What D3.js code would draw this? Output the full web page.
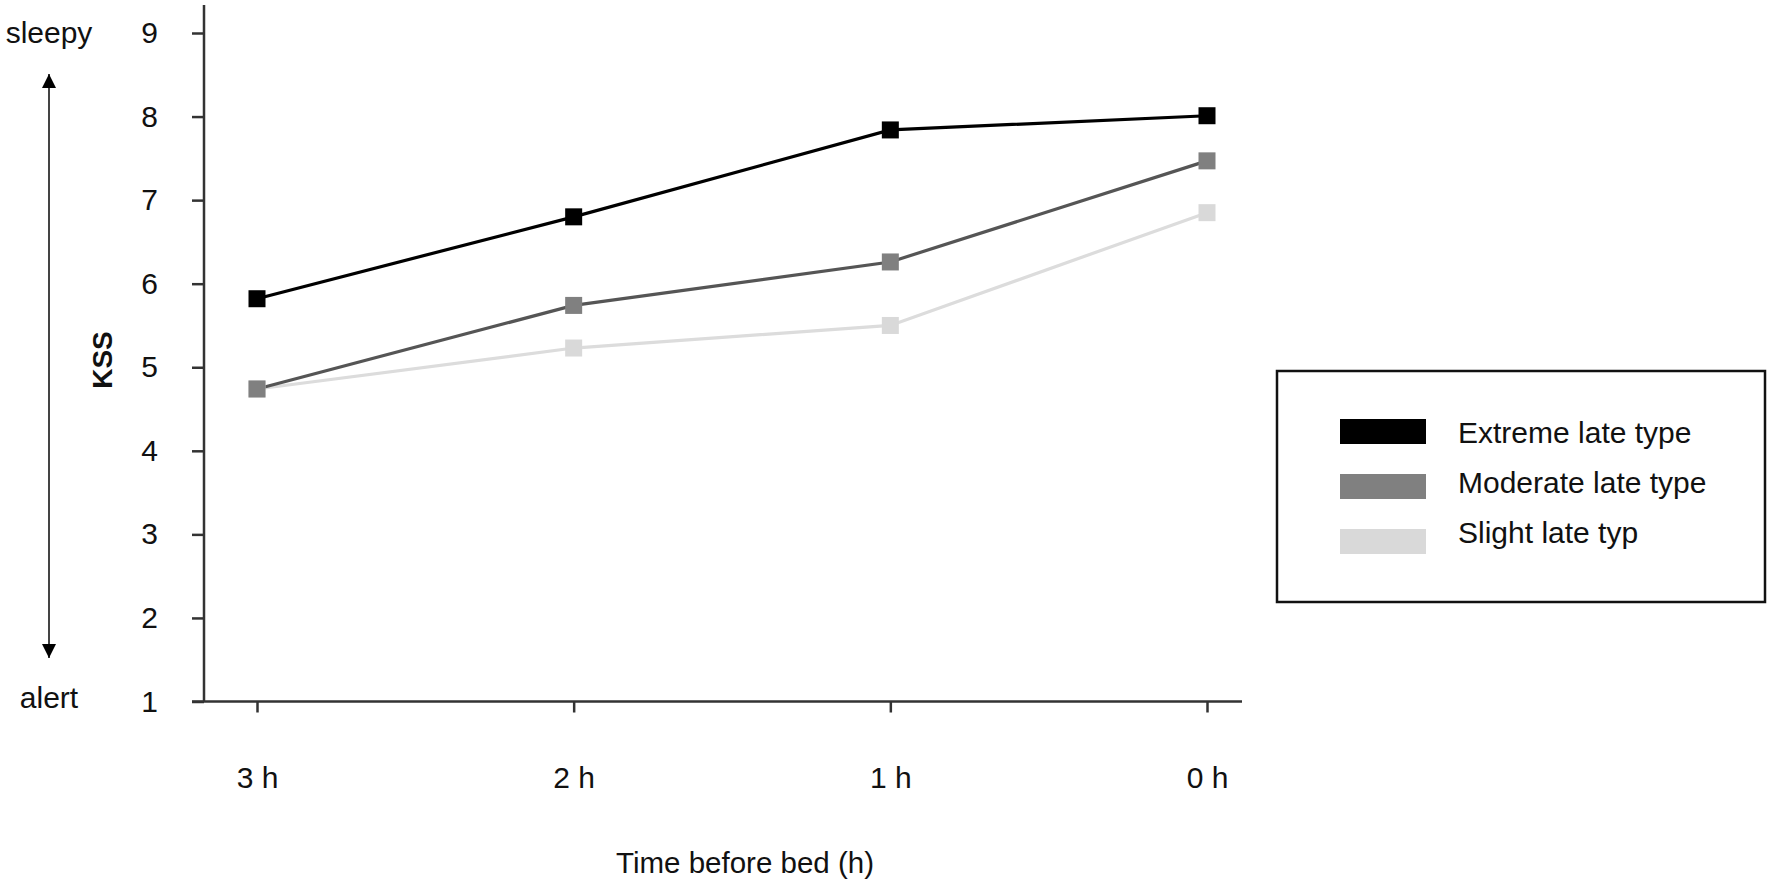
<!DOCTYPE html>
<html>
<head>
<meta charset="utf-8">
<script src="https://cdn.jsdelivr.net/npm/d3@7"></script>
<style>
  body { margin: 0; background: #fff; }
  text { font-family: "Liberation Sans", Arial, sans-serif; fill: #111; }
</style>
</head>
<body>
<svg width="1772" height="884"></svg>
<script>
// --- Data ---
const times = ['3 h', '2 h', '1 h', '0 h'];
const extreme = [5.82, 6.80, 7.84, 8.01];
const moderate = [4.74, 5.74, 6.26, 7.47];
const slight = [4.74, 5.23, 5.50, 6.85];
const seriesNames = ['Extreme late type', 'Moderate late type', 'Slight late typ'];
const yTicks = [1, 2, 3, 4, 5, 6, 7, 8, 9];

const svg = d3.select('svg');

// --- Scales ---
const x = d3.scalePoint().domain(times).range([257, 1207]);
const y = d3.scaleLinear().domain([1, 9]).range([701.5, 33]);

const series = [
  { name: seriesNames[0], values: extreme, line: '#000', marker: '#000' },
  { name: seriesNames[1], values: moderate, line: '#555', marker: '#808080' },
  { name: seriesNames[2], values: slight, line: '#dcdcdc', marker: '#d9d9d9' }
];

// --- Y axis ---
const yAxis = svg.append('g')
  .attr('transform', 'translate(204,0)')
  .call(d3.axisLeft(y).tickValues(yTicks).tickSize(12).tickPadding(34).tickFormat(d3.format('d')));
yAxis.select('.domain').remove();
yAxis.selectAll('.tick line').attr('stroke', '#333').attr('stroke-width', 2.5);
yAxis.selectAll('.tick text')
  .attr('font-size', 30).attr('fill', '#111')
  .style('font-family', '"Liberation Sans", Arial, sans-serif');

svg.append('line')
  .attr('x1', 204).attr('x2', 204)
  .attr('y1', 5).attr('y2', y(1))
  .attr('stroke', '#333').attr('stroke-width', 2.5);

// --- X axis ---
const xAxis = svg.append('g')
  .attr('transform', `translate(0,${y(1)})`)
  .call(d3.axisBottom(x).tickSize(11).tickPadding(54));
xAxis.select('.domain').remove();
xAxis.selectAll('.tick line').attr('stroke', '#333').attr('stroke-width', 2.5);
xAxis.selectAll('.tick text')
  .attr('font-size', 30).attr('fill', '#111')
  .style('font-family', '"Liberation Sans", Arial, sans-serif');

svg.append('line')
  .attr('x1', 192).attr('x2', 1242)
  .attr('y1', y(1)).attr('y2', y(1))
  .attr('stroke', '#333').attr('stroke-width', 2.5);

// --- Axis titles ---
svg.append('text')
  .attr('x', 745).attr('y', 873)
  .attr('text-anchor', 'middle')
  .attr('font-size', 29.5)
  .text('Time before bed (h)');

svg.append('text')
  .attr('transform', 'translate(112,360) rotate(-90)')
  .attr('text-anchor', 'middle')
  .attr('font-size', 28)
  .attr('font-weight', 'bold')
  .text('KSS');

// --- sleepy / alert arrow ---
svg.append('text')
  .attr('x', 49).attr('y', 43)
  .attr('text-anchor', 'middle')
  .attr('font-size', 30)
  .text('sleepy');
svg.append('text')
  .attr('x', 49).attr('y', 708)
  .attr('text-anchor', 'middle')
  .attr('font-size', 30)
  .text('alert');

const defs = svg.append('defs');
defs.append('marker')
  .attr('id', 'arrow')
  .attr('viewBox', '0 0 10 10')
  .attr('refX', 10).attr('refY', 5)
  .attr('markerWidth', 7).attr('markerHeight', 7)
  .attr('markerUnits', 'strokeWidth')
  .attr('orient', 'auto-start-reverse')
  .append('path')
  .attr('d', 'M0,0 L10,5 L0,10 Z')
  .attr('fill', '#000');

svg.append('line')
  .attr('x1', 49).attr('x2', 49)
  .attr('y1', 74).attr('y2', 658)
  .attr('stroke', '#444').attr('stroke-width', 2)
  .attr('marker-start', 'url(#arrow)')
  .attr('marker-end', 'url(#arrow)');

// --- Lines & markers (light first so darker series on top) ---
const line = d3.line()
  .x((d, i) => x(times[i]))
  .y(d => y(d));

const plot = svg.append('g');
series.slice().reverse().forEach(s => {
  plot.append('path')
    .datum(s.values)
    .attr('d', line)
    .attr('fill', 'none')
    .attr('stroke', s.line)
    .attr('stroke-width', 3.2);
});
series.slice().reverse().forEach(s => {
  plot.selectAll(null)
    .data(s.values)
    .join('rect')
    .attr('x', (d, i) => x(times[i]) - 8.5)
    .attr('y', d => y(d) - 8.5)
    .attr('width', 17)
    .attr('height', 17)
    .attr('fill', s.marker);
});

// --- Legend ---
const legend = svg.append('g');
legend.append('rect')
  .attr('x', 1277).attr('y', 371)
  .attr('width', 488).attr('height', 231)
  .attr('fill', '#fff')
  .attr('stroke', '#111')
  .attr('stroke-width', 2.5);

series.forEach((s, i) => {
  legend.append('rect')
    .attr('x', 1340).attr('y', 419 + i * 55)
    .attr('width', 86).attr('height', 25)
    .attr('fill', s.marker);
  legend.append('text')
    .attr('x', 1458).attr('y', 443 + i * 50)
    .attr('font-size', 30)
    .text(s.name);
});
</script>
</body>
</html>
